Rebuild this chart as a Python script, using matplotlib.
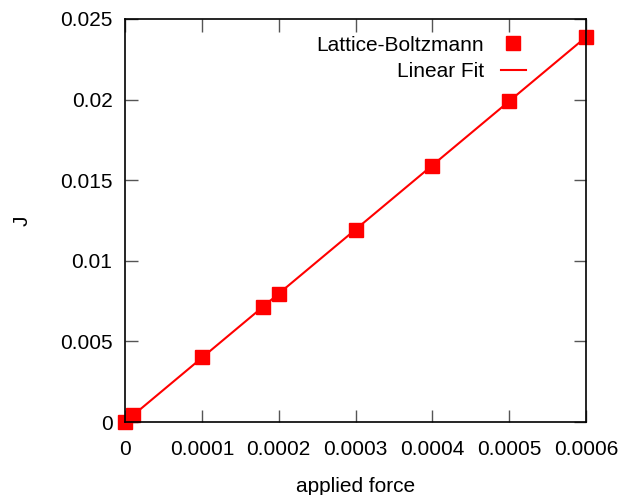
import matplotlib.pyplot as plt

plt.rcParams['font.family'] = ['Liberation Sans', 'DejaVu Sans']

# Lattice-Boltzmann results
force = [0.0, 0.00001, 0.0001, 0.00018, 0.0002, 0.0003, 0.0004, 0.0005, 0.0006]
flux = [0.0, 0.00043, 0.00403, 0.00713, 0.00794, 0.01191, 0.01588, 0.01991, 0.02388]

# linear fit end points
fit_x = [0.0, 0.0006]
fit_y = [0.0, 0.02388]

xticks = [0, 0.0001, 0.0002, 0.0003, 0.0004, 0.0005, 0.0006]
xlabels = ['0', '0.0001', '0.0002', '0.0003', '0.0004', '0.0005', '0.0006']
yticks = [0, 0.005, 0.01, 0.015, 0.02, 0.025]
ylabels = ['0', '0.005', '0.01', '0.015', '0.02', '0.025']

fs = 15

fig = plt.figure(figsize=(6.21, 4.95), dpi=100)
ax = fig.add_axes([125 / 621, 73 / 495, 461 / 621, 403 / 495])

ax.plot(force, flux, 's', color='#ff0000', markersize=10, clip_on=False,
        zorder=3, label='Lattice-Boltzmann')
ax.plot(fit_x, fit_y, '-', color='#ff0000', linewidth=1.5, label='Linear Fit',
        zorder=2)

ax.set_xlim(0, 0.0006)
ax.set_ylim(0, 0.025)
ax.set_xticks(xticks)
ax.set_xticklabels(xlabels)
ax.set_yticks(yticks)
ax.set_yticklabels(ylabels)
ax.tick_params(direction='in', length=9, width=1, color='#555555',
               top=True, right=True, labelsize=fs)
ax.tick_params(axis='x', pad=13)
ax.tick_params(axis='y', pad=9)
for sp in ax.spines.values():
    sp.set_zorder(5)
    sp.set_linewidth(1.2)

ax.set_xlabel('applied force', fontsize=fs)
ax.set_ylabel('J', fontsize=fs)
ax.xaxis.set_label_coords(0.5, -0.136)
ax.yaxis.set_label_coords(-0.202, 0.5)

ax.legend(loc='upper right', frameon=False, markerfirst=False, fontsize=fs,
          handlelength=1.2, handletextpad=0.8, labelspacing=0.35,
          borderaxespad=0.4, bbox_to_anchor=(0.905, 1.0))

fig.savefig('out.png', dpi=100)
